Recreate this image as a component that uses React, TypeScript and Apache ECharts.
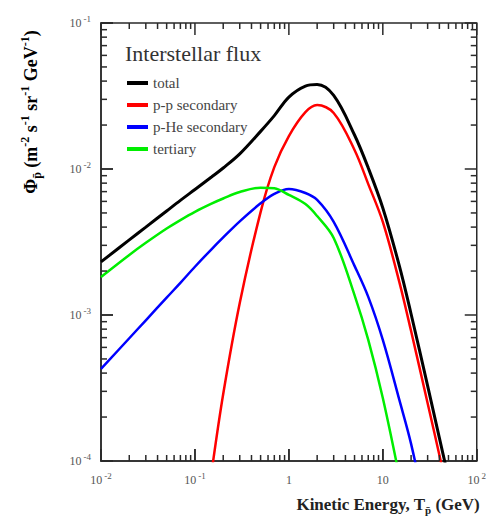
import React, { useEffect, useRef } from "react";
import * as echarts from "echarts";

// Kinetic energy grid (GeV)
const energies = [0.01, 0.02, 0.03, 0.05, 0.07, 0.1, 0.15, 0.2, 0.3, 0.5, 0.7, 1, 1.5, 2, 3, 5, 7, 10, 15, 20, 30, 40, 50];
// Antiproton fluxes (m^-2 s^-1 sr^-1 GeV^-1)
const totalFlux = [2.31e-3, 3.27e-3, 4.0e-3, 5.16e-3, 6.1e-3, 7.24e-3, 8.81e-3, 1.016e-2, 1.27e-2, 1.81e-2, 2.32e-2, 3.11e-2, 3.7e-2, 3.79e-2, 3.19e-2, 1.71e-2, 1.017e-2, 5.41e-3, 2.17e-3, 1.016e-3, 3.27e-4, 1.44e-4, 7.66e-5];
const ppSecondary = [null, null, null, null, null, null, 8.3e-5, 2.88e-4, 1.21e-3, 5.07e-3, 1.03e-2, 1.68e-2, 2.45e-2, 2.74e-2, 2.42e-2, 1.35e-2, 7.88e-3, 4.34e-3, 1.68e-3, 7.76e-4, 2.49e-4, 1.1e-4, 5.8e-5];
const pHeSecondary = [4.27e-4, 6.93e-4, 9.2e-4, 1.315e-3, 1.66e-3, 2.14e-3, 2.82e-3, 3.4e-3, 4.38e-3, 5.82e-3, 6.76e-3, 7.3e-3, 6.85e-3, 6.14e-3, 4.34e-3, 2.17e-3, 1.33e-3, 6.75e-4, 2.62e-4, 1.31e-4, 3.9e-5, null, null];
const tertiary = [1.82e-3, 2.576e-3, 3.12e-3, 3.91e-3, 4.47e-3, 5.09e-3, 5.79e-3, 6.28e-3, 6.95e-3, 7.45e-3, 7.38e-3, 6.64e-3, 5.75e-3, 4.76e-3, 3.37e-3, 1.37e-3, 6.75e-4, 2.7e-4, 7.8e-5, null, null, null, null];

const seriesNames = ["total", "p-p secondary", "p-He secondary", "tertiary"];
const seriesColors = ["#000000", "#ff0000", "#0000ff", "#00ee00"];

// Axis tick labels (base, exponent)
const xMajorTicks = [0.01, 0.1, 1, 10, 100];
const xTickBases = ["10", "10", "1", "10", "10"];
const xTickExps = ["-2", "-1", "", "", "2"];
const yMajorTicks = [1e-4, 1e-3, 1e-2, 1e-1];
const yTickBases = ["10", "10", "10", "10"];
const yTickExps = ["-4", "-3", "-2", "-1"];
const minorMultipliers = [2, 3, 4, 5, 6, 7, 8, 9];

const X_MIN = 0.01;
const X_MAX = 100;
const Y_MIN = 1e-4;
const Y_MAX = 1e-1;

const W = 489;
const H = 519;
const GRID = { left: 101, right: 11, top: 23, bottom: 58 };

const FONT = "'Liberation Serif', 'Times New Roman', serif";
const FRAME = "#2a2a2a";

const toPairs = (arr: (number | null)[]) =>
  energies.map((e, i) => [e, arr[i]]).filter((p) => p[1] !== null);

const tickRich = {
  b: { fontFamily: FONT, fontSize: 12, color: "#555", lineHeight: 18, verticalAlign: "middle" },
  s: { fontFamily: FONT, fontSize: 9, color: "#555", lineHeight: 18, verticalAlign: "top", padding: [0, 0, 0, 2] },
};

const mkRich = (size: number, small: number, lh: number) => ({
  b: { fontFamily: FONT, fontSize: size, fontWeight: "bold", color: "#222", lineHeight: lh, verticalAlign: "middle" },
  sub: { fontFamily: FONT, fontSize: small, fontWeight: "bold", color: "#222", lineHeight: lh, verticalAlign: "bottom" },
  sup: { fontFamily: FONT, fontSize: small, fontWeight: "bold", color: "#222", lineHeight: lh, verticalAlign: "top" },
});

export default function App() {
  const ref = useRef<HTMLDivElement>(null);
  useEffect(() => {
    if (!ref.current) return;
    const chart = echarts.init(ref.current, null, { renderer: "svg" });
    const lineSeries = [totalFlux, ppSecondary, pHeSecondary, tertiary].map((arr, i) => ({
      name: seriesNames[i],
      type: "line",
      data: toPairs(arr),
      smooth: 0.35,
      showSymbol: false,
      symbol: "none",
      clip: true,
      lineStyle: { color: seriesColors[i], width: i === 0 ? 3 : 2.5 },
      itemStyle: { color: seriesColors[i] },
      z: 3,
    }));
    chart.setOption({
      animation: false,
      grid: { ...GRID, containLabel: false, show: true, borderColor: FRAME, borderWidth: 1.5, backgroundColor: "transparent" },
      legend: {
        data: seriesNames,
        orient: "vertical",
        left: 127,
        top: 75,
        padding: 0,
        icon: "rect",
        itemWidth: 21,
        itemHeight: 4,
        itemGap: 6,
        textStyle: { fontFamily: FONT, fontSize: 15, color: "#444", lineHeight: 16 },
      },
      xAxis: {
        type: "log",
        logBase: 10,
        min: X_MIN,
        max: X_MAX,
        axisLine: { show: true, lineStyle: { color: FRAME, width: 1.5 } },
        axisTick: { show: true, inside: true, length: 12, lineStyle: { color: FRAME, width: 1.5 } },
        splitLine: { show: false },
        axisLabel: {
          margin: 10,
          formatter: (v: number) => {
            const i = Math.round(Math.log10(v)) + 2;
            return xTickExps[i] ? `{b|${xTickBases[i]}}{s|${xTickExps[i]}}` : `{b|${xTickBases[i]}}`;
          },
          rich: tickRich,
        },
        name: "{b|Kinetic Energy, T}{sub|p̄}{b| (GeV)}",
        nameLocation: "end",
        nameGap: 3,
        nameTextStyle: { align: "right", verticalAlign: "top", padding: [32, 0, 0, 0], rich: mkRich(17, 11, 22) },
      },
      yAxis: {
        type: "log",
        logBase: 10,
        min: Y_MIN,
        max: Y_MAX,
        axisLine: { show: true, lineStyle: { color: FRAME, width: 1.5 } },
        axisTick: { show: true, inside: true, length: 12, lineStyle: { color: FRAME, width: 1.5 } },
        splitLine: { show: false },
        axisLabel: {
          margin: 10,
          formatter: (v: number) => {
            const i = Math.round(Math.log10(v)) + 4;
            return `{b|${yTickBases[i]}}{s|${yTickExps[i]}}`;
          },
          rich: tickRich,
        },
      },
      series: lineSeries,
    });

    // Minor ticks (and the mirrored major ticks on top/right), positioned with the chart's log scales.
    const plotW = W - GRID.left - GRID.right;
    const plotH = H - GRID.top - GRID.bottom;
    const num = (p: any) => (Array.isArray(p) ? Number(p[0]) : Number(p));
    const px = (v: number) => {
      const n = num(chart.convertToPixel({ xAxisIndex: 0 }, v));
      return isFinite(n) ? n : GRID.left + ((Math.log10(v) - Math.log10(X_MIN)) / (Math.log10(X_MAX) - Math.log10(X_MIN))) * plotW;
    };
    const py = (v: number) => {
      const n = num(chart.convertToPixel({ yAxisIndex: 0 }, v));
      return isFinite(n) ? n : GRID.top + plotH - ((Math.log10(v) - Math.log10(Y_MIN)) / (Math.log10(Y_MAX) - Math.log10(Y_MIN))) * plotH;
    };
    const left = px(X_MIN);
    const right = px(X_MAX);
    const top = py(Y_MAX);
    const bottom = py(Y_MIN);
    const ticks: any[] = [];
    const seg = (x1: number, y1: number, x2: number, y2: number) =>
      ticks.push({ type: "line", z: 10, shape: { x1, y1, x2, y2 }, style: { stroke: FRAME, lineWidth: 1.5 } });
    const addX = (v: number, len: number) => {
      const x = px(v);
      seg(x, bottom, x, bottom - len);
      seg(x, top, x, top + len);
    };
    const addY = (v: number, len: number) => {
      const y = py(v);
      seg(left, y, left + len, y);
      seg(right, y, right - len, y);
    };
    xMajorTicks.forEach((v, i) => {
      addX(v, 12);
      if (i < xMajorTicks.length - 1) minorMultipliers.forEach((m) => addX(v * m, 6));
    });
    yMajorTicks.forEach((v, i) => {
      addY(v, 12);
      if (i < yMajorTicks.length - 1) minorMultipliers.forEach((m) => addY(v * m, 6));
    });

    chart.setOption({
      graphic: [
        ...ticks,
        {
          type: "text",
          left: 125,
          top: 42,
          style: { text: "Interstellar flux", fontFamily: FONT, fontSize: 22, fill: "#333" },
        },
        {
          type: "group",
          x: 31,
          y: 112,
          rotation: Math.PI / 2,
          children: [
            {
              type: "text",
              style: {
                text: "{b|Φ}{sub|p̄}{b| (m}{sup|-2}{b| s}{sup|-1}{b| sr}{sup|-1}{b| GeV}{sup|-1}{b|)}",
                rich: mkRich(18, 12, 24),
                align: "center",
                verticalAlign: "middle",
              },
            },
          ],
        },
      ],
    });
    return () => chart.dispose();
  }, []);
  return <div ref={ref} style={{ position: "absolute", left: 0, top: 0, width: W, height: H }} />;
}
